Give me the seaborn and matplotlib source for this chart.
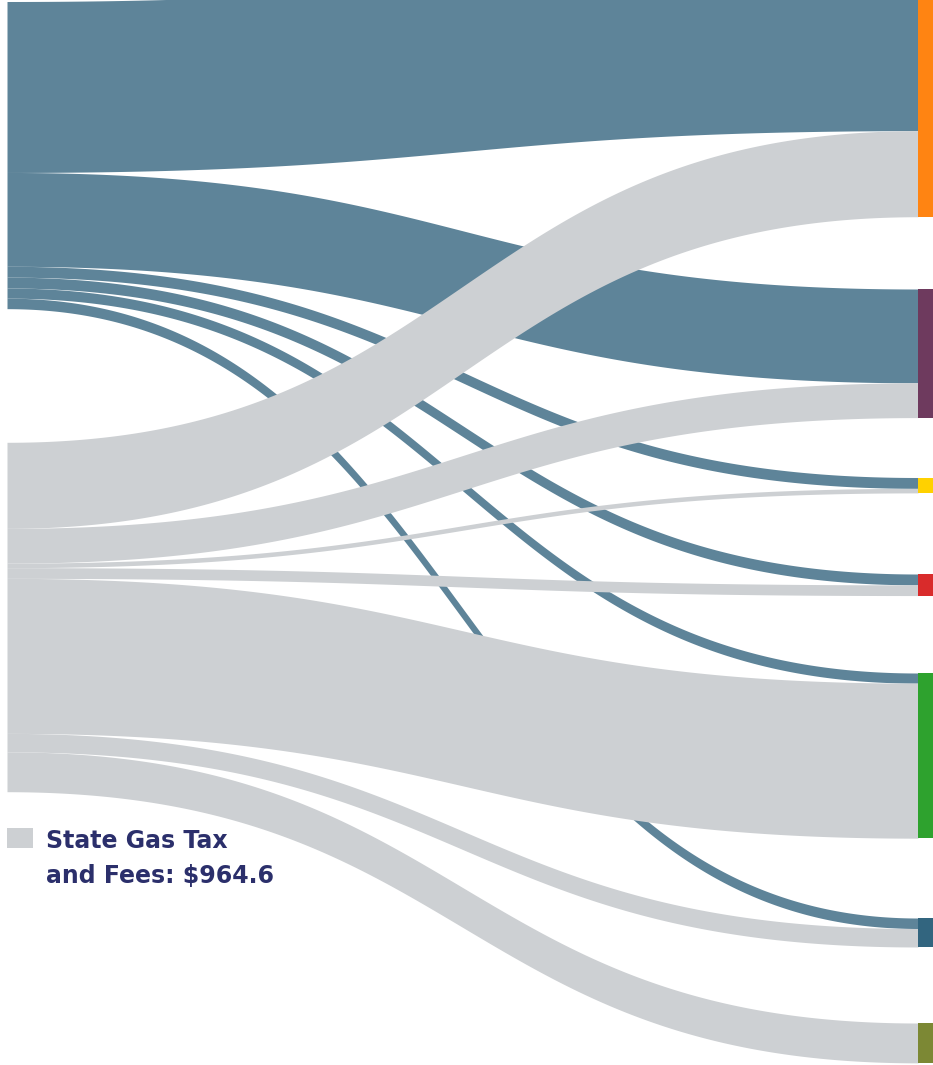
import numpy as np
import matplotlib
matplotlib.use("Agg")
import matplotlib.pyplot as plt
import seaborn as sns

# ---------------- data ----------------
sources = ["Federal Funds", "State Gas Tax and Fees"]
targets = ["Target A", "Target B", "Target C", "Target D", "Target E", "Target F", "Target G"]
federal_values = [472, 259, 30, 30, 28, 29, 0]
state_values = [237.6, 96, 12.5, 29.5, 428, 51, 110]
legend_lines = ["State Gas Tax", "and Fees: $964.6"]

# ---------------- style / layout ----------------
link_colors = ["#5e8499", "#cdd0d3"]
node_colors = ["#ff8412", "#6e3a5e", "#ffd100", "#d92b2b", "#2ea22e", "#32657f", "#7c8834"]
text_color = "#2b2f6b"
px_per_unit = 349.4 / 964.6
source_top_px = [1.5, 442.3]
target_top_px = [-40.3, 289, 477.5, 574, 673, 918, 1023]
x_left, x_right, node_w = 7, 918, 15
W, H = 933, 1065

sns.set_theme(style="white")
plt.rcParams['font.family'] = ['DejaVu Sans']

fig = plt.figure(figsize=(W / 100, H / 100), dpi=100)
ax = fig.add_axes([0, 0, 1, 1])
ax.set_xlim(0, W)
ax.set_ylim(H, 0)
ax.axis("off")

flows = [federal_values, state_values]

tgt_offset = list(target_top_px)
tgt_pos = {}
for s in range(2):
    for t in range(len(targets)):
        w = flows[s][t] * px_per_unit
        tgt_pos[(s, t)] = tgt_offset[t]
        tgt_offset[t] += w

u = np.linspace(0, 1, 400)
xm = (x_left + x_right) / 2
X = (1 - u) ** 3 * x_left + 3 * (1 - u) ** 2 * u * xm + 3 * (1 - u) * u ** 2 * xm + u ** 3 * x_right
fy0 = (1 - u) ** 3 + 3 * (1 - u) ** 2 * u
fy1 = 3 * (1 - u) * u ** 2 + u ** 3

for s in range(2):
    off = source_top_px[s]
    for t in range(len(targets)):
        v = flows[s][t]
        if v <= 0:
            continue
        w = v * px_per_unit
        y0 = off
        y1 = tgt_pos[(s, t)]
        Ytop = y0 * fy0 + y1 * fy1
        ax.fill_between(X, Ytop, Ytop + w, color=link_colors[s], linewidth=0, zorder=1 + s)
        off += w

for t in range(len(targets)):
    total = (flows[0][t] + flows[1][t]) * px_per_unit
    ax.bar(x_right + node_w / 2, total, bottom=target_top_px[t], width=node_w,
           color=node_colors[t], linewidth=0, zorder=5)

# legend
ax.bar(20, 20, bottom=828, width=26, color=link_colors[1], linewidth=0, zorder=5)
for i, line in enumerate(legend_lines):
    ax.text(46, 848 + 35 * i, line, color=text_color, fontsize=17, fontweight="bold",
            va="baseline", ha="left", zorder=6)

fig.savefig("out.png", dpi=100)
